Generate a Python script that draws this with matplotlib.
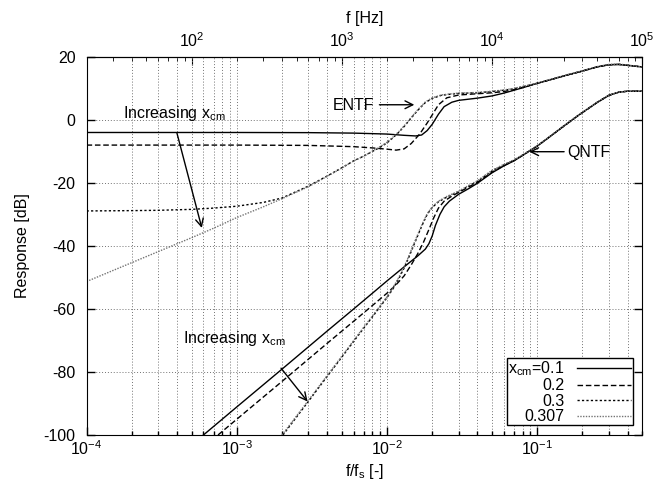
import matplotlib.pyplot as plt
from matplotlib.ticker import NullLocator

# sampling frequency used for the top axis
fs = 2e5

# ENTF curves, f/fs -> dB
entf_x_01 = [1e-4, 1e-3, 3e-3, 6e-3, 1e-2, 1.3e-2, 1.55e-2, 1.7e-2, 1.85e-2, 2e-2, 2.2e-2, 2.4e-2,
             2.7e-2, 3e-2, 4e-2, 5e-2, 6e-2, 7e-2, 8e-2, 0.1, 0.13, 0.16, 0.2, 0.25, 0.3, 0.35,
             0.4, 0.5]
entf_y_01 = [-4.0, -4.0, -4.05, -4.2, -4.5, -4.9, -5.1, -4.8, -3.4, -1.4, 1.8, 4.2,
             5.6, 6.2, 6.9, 7.6, 8.5, 9.4, 10.2, 11.6, 13.1, 14.3, 15.5, 16.8, 17.5, 17.6,
             17.3, 16.8]

entf_x_02 = [1e-4, 1e-3, 3e-3, 6e-3, 8e-3, 1e-2, 1.15e-2, 1.3e-2, 1.45e-2, 1.65e-2, 1.85e-2, 2e-2,
             2.2e-2, 2.5e-2, 3e-2, 4e-2, 5e-2, 6e-2, 7e-2, 8e-2, 0.1, 0.13, 0.16, 0.2, 0.25, 0.3,
             0.35, 0.4, 0.5]
entf_y_02 = [-8.0, -8.0, -8.1, -8.5, -8.9, -9.3, -9.6, -9.2, -7.5, -4.5, -1.0, 1.6,
             4.8, 7.0, 7.9, 8.3, 8.6, 9.0, 9.6, 10.3, 11.6, 13.1, 14.3, 15.5, 16.8, 17.5,
             17.6, 17.3, 16.8]

entf_x_03 = [1e-4, 2e-4, 3e-4, 5e-4, 7e-4, 1e-3, 1.5e-3, 2e-3, 3e-3, 4e-3, 5e-3, 6e-3, 7e-3,
             8e-3, 9e-3, 1e-2, 1.1e-2, 1.2e-2, 1.3e-2, 1.45e-2, 1.6e-2, 1.8e-2, 2e-2, 2.3e-2,
             2.7e-2, 3e-2, 4e-2, 5e-2, 6e-2, 7e-2, 8e-2, 0.1, 0.13, 0.16, 0.2, 0.25, 0.3, 0.35,
             0.4, 0.5]
entf_y_03 = [-28.9, -28.8, -28.7, -28.4, -28.0, -27.4, -26.2, -24.8, -21.0, -17.8, -15.2, -13.0, -11.5,
             -10.0, -8.7, -7.3, -5.6, -3.9, -2.1, 0.6, 3.0, 5.5, 6.8, 7.8,
             8.2, 8.4, 8.6, 9.0, 9.4, 9.9, 10.5, 11.6, 13.1, 14.3, 15.5, 16.8, 17.5, 17.6,
             17.3, 16.8]

entf_x_0307 = [1e-4, 2e-4, 3e-4, 5e-4, 7e-4, 1e-3, 1.5e-3, 2e-3, 3e-3, 4e-3, 5e-3, 6e-3, 7e-3,
               8e-3, 9e-3, 1e-2, 1.1e-2, 1.2e-2, 1.3e-2, 1.45e-2, 1.6e-2, 1.8e-2, 2e-2, 2.3e-2,
               2.7e-2, 3e-2, 4e-2, 5e-2, 6e-2, 7e-2, 8e-2, 0.1, 0.13, 0.16, 0.2, 0.25, 0.3, 0.35,
               0.4, 0.5]
entf_y_0307 = [-51.3, -45.3, -41.8, -37.4, -34.4, -31.0, -27.6, -25.0, -21.2, -17.9, -15.3, -13.0, -11.5,
               -9.9, -8.5, -7.1, -5.4, -3.7, -1.9, 0.8, 3.2, 5.7, 7.0, 7.9,
               8.3, 8.5, 8.7, 9.1, 9.5, 10.0, 10.6, 11.7, 13.2, 14.4, 15.6, 16.9, 17.6, 17.7,
               17.4, 16.8]

# QNTF curves
qntf_x_01 = [6e-4, 1e-3, 2e-3, 4e-3, 6e-3, 8e-3, 1e-2, 1.2e-2, 1.4e-2, 1.6e-2, 1.8e-2, 1.9e-2,
             2.0e-2, 2.1e-2, 2.25e-2, 2.4e-2, 2.6e-2, 3e-2, 3.5e-2, 4e-2, 5e-2, 6e-2, 7e-2, 8e-2,
             0.0885, 0.1, 0.12, 0.15, 0.19, 0.25, 0.3, 0.35, 0.4, 0.5]
qntf_y_01 = [-100.0, -91.1, -79.1, -67.0, -60.0, -55.0, -51.1, -48.0, -45.4, -43.2, -41.0, -39.3,
             -36.8, -33.5, -30.0, -27.6, -25.8, -23.6, -21.8, -20.1, -16.8, -14.6, -13.0, -11.3,
             -9.9, -8.3, -5.5, -2.0, 1.6, 5.5, 7.8, 8.8, 9.1, 9.1]

qntf_x_02 = [7.5e-4, 1e-3, 2e-3, 4e-3, 6e-3, 8e-3, 1e-2, 1.15e-2, 1.3e-2, 1.45e-2, 1.6e-2, 1.75e-2,
             1.9e-2, 2.05e-2, 2.2e-2, 2.4e-2, 2.7e-2, 3e-2, 3.5e-2, 4e-2, 5e-2, 6e-2, 7e-2, 8e-2,
             0.0885, 0.1, 0.12, 0.15, 0.19, 0.25, 0.3, 0.35, 0.4, 0.5]
qntf_y_02 = [-100.0, -95.0, -83.0, -70.9, -63.9, -58.9, -55.0, -52.3, -49.5, -46.0, -42.5, -38.8,
             -34.8, -31.0, -28.0, -25.8, -24.2, -23.0, -21.3, -19.8, -16.6, -14.5, -12.9, -11.2,
             -9.9, -8.3, -5.5, -2.0, 1.6, 5.5, 7.8, 8.8, 9.1, 9.1]

qntf_x_03 = [2.03e-3, 3e-3, 4e-3, 5e-3, 6e-3, 7e-3, 8e-3, 9e-3, 1e-2, 1.1e-2, 1.2e-2, 1.3e-2,
             1.4e-2, 1.5e-2, 1.6e-2, 1.7e-2, 1.85e-2, 2e-2, 2.2e-2, 2.5e-2, 3e-2, 3.5e-2, 4e-2,
             5e-2, 6e-2, 7e-2, 8e-2, 0.0885, 0.1, 0.12, 0.15, 0.19, 0.25, 0.3, 0.35, 0.4, 0.5]
qntf_y_03 = [-100.0, -89.3, -81.4, -75.3, -70.3, -66.1, -62.5, -59.3, -56.4, -53.5, -50.3, -47.0,
             -43.5, -40.0, -36.8, -33.8, -30.0, -27.8, -26.0, -24.5, -22.8, -21.0, -19.5,
             -16.2, -14.3, -12.8, -11.2, -9.9, -8.3, -5.5, -2.0, 1.6, 5.5, 7.8, 8.8, 9.1, 9.1]

qntf_x_0307 = [2.0e-3, 3e-3, 4e-3, 5e-3, 6e-3, 7e-3, 8e-3, 9e-3, 1e-2, 1.1e-2, 1.2e-2, 1.3e-2,
               1.4e-2, 1.5e-2, 1.6e-2, 1.7e-2, 1.85e-2, 2e-2, 2.2e-2, 2.5e-2, 3e-2, 3.5e-2, 4e-2,
               5e-2, 6e-2, 7e-2, 8e-2, 0.0885, 0.1, 0.12, 0.15, 0.19, 0.25, 0.3, 0.35, 0.4, 0.5]
qntf_y_0307 = [-100.0, -89.0, -81.1, -75.0, -70.0, -65.8, -62.2, -59.0, -56.1, -53.1, -49.9, -46.6,
               -43.1, -39.6, -36.4, -33.5, -29.8, -27.6, -25.8, -24.3, -22.6, -20.8, -19.3,
               -16.0, -14.1, -12.7, -11.1, -9.8, -8.2, -5.4, -1.9, 1.7, 5.6, 7.9, 8.8, 9.1, 9.1]

labels = [r'x$_{\rm cm}$=0.1', '0.2', '0.3', '0.307']
top_ticks = [1e2, 1e3, 1e4, 1e5]

plt.rcParams['font.family'] = 'Liberation Sans'
plt.rcParams['font.size'] = 11.5
plt.rcParams['mathtext.fontset'] = 'custom'
plt.rcParams['mathtext.rm'] = 'Liberation Sans'
plt.rcParams['mathtext.it'] = 'Liberation Sans'
plt.rcParams['axes.unicode_minus'] = False

fig = plt.figure(figsize=(6.56, 4.86), dpi=100)
ax = fig.add_axes([0.132, 0.105, 0.847, 0.778])

styles = [
    dict(color='black', linestyle='-', linewidth=1.0),
    dict(color='black', linestyle=(0, (4, 2)), linewidth=1.0),
    dict(color='black', linestyle=(0, (1.6, 1.6)), linewidth=1.0),
    dict(color='0.45', linestyle=(0, (1, 1)), linewidth=1.0),
]
entf = [(entf_x_01, entf_y_01), (entf_x_02, entf_y_02), (entf_x_03, entf_y_03), (entf_x_0307, entf_y_0307)]
qntf = [(qntf_x_01, qntf_y_01), (qntf_x_02, qntf_y_02), (qntf_x_03, qntf_y_03), (qntf_x_0307, qntf_y_0307)]

for (xe, ye), (xq, yq), st, lab in zip(entf, qntf, styles, labels):
    ax.plot(xe, ye, label=lab, **st)
    ax.plot(xq, yq, **st)

ax.set_xscale('log')
ax.set_xlim(1e-4, 0.5)
ax.set_ylim(-100, 20)
ax.set_yticks(range(-100, 21, 20))
ax.yaxis.set_minor_locator(NullLocator())

ax.grid(True, which='both', axis='x', color='0.45', linestyle=(0, (1, 2)), linewidth=0.7)
ax.grid(True, which='major', axis='y', color='0.45', linestyle=(0, (1, 2)), linewidth=0.7)

ax.tick_params(which='both', direction='in', top=False, right=True, width=1)
ax.tick_params(which='major', length=6)
ax.tick_params(which='minor', length=3)
ax.tick_params(axis='x', pad=3)
ax.tick_params(axis='y', pad=8)

sec = ax.secondary_xaxis('top', functions=(lambda x: x * fs, lambda f: f / fs))
sec.set_xticks(top_ticks)
sec.tick_params(which='both', direction='in')
sec.tick_params(which='major', length=6, pad=5)
sec.tick_params(which='minor', length=3)
sec.set_xlabel('f [Hz]', labelpad=6)

ax.set_xlabel(r'f/f$_{\rm s}$ [-]', labelpad=3)
ax.set_ylabel('Response [dB]', labelpad=10)

arrow = dict(arrowstyle='->', color='black', linewidth=1.0, shrinkA=0, shrinkB=0, mutation_scale=14)
ax.text(1.755e-4, 0.6, r'Increasing x$_{\rm cm}$', ha='left', va='baseline')
ax.annotate('', xy=(5.85e-4, -34.3), xytext=(3.99e-4, -4.1), arrowprops=arrow)
ax.text(4.4e-4, -70.9, r'Increasing x$_{\rm cm}$', ha='left', va='baseline')
ax.annotate('', xy=(2.96e-3, -89.4), xytext=(1.97e-3, -78.8), arrowprops=arrow)
ax.text(4.35e-3, 3.0, 'ENTF', ha='left', va='baseline')
ax.annotate('', xy=(1.52e-2, 4.8), xytext=(8.9e-3, 4.8), arrowprops=arrow)
ax.text(0.158, -11.8, 'QNTF', ha='left', va='baseline')
ax.annotate('', xy=(0.0885, -10.1), xytext=(0.151, -10.1), arrowprops=arrow)

# markerfirst=False puts samples on the right and right-aligns the texts
leg = ax.legend(loc='lower right', markerfirst=False, fancybox=False, edgecolor='black',
                framealpha=1, borderaxespad=0.6, handlelength=3.4, labelspacing=0.02,
                borderpad=0.08, handletextpad=0.8)
leg.get_frame().set_linewidth(1.0)

plt.savefig('out.png', dpi=100)
